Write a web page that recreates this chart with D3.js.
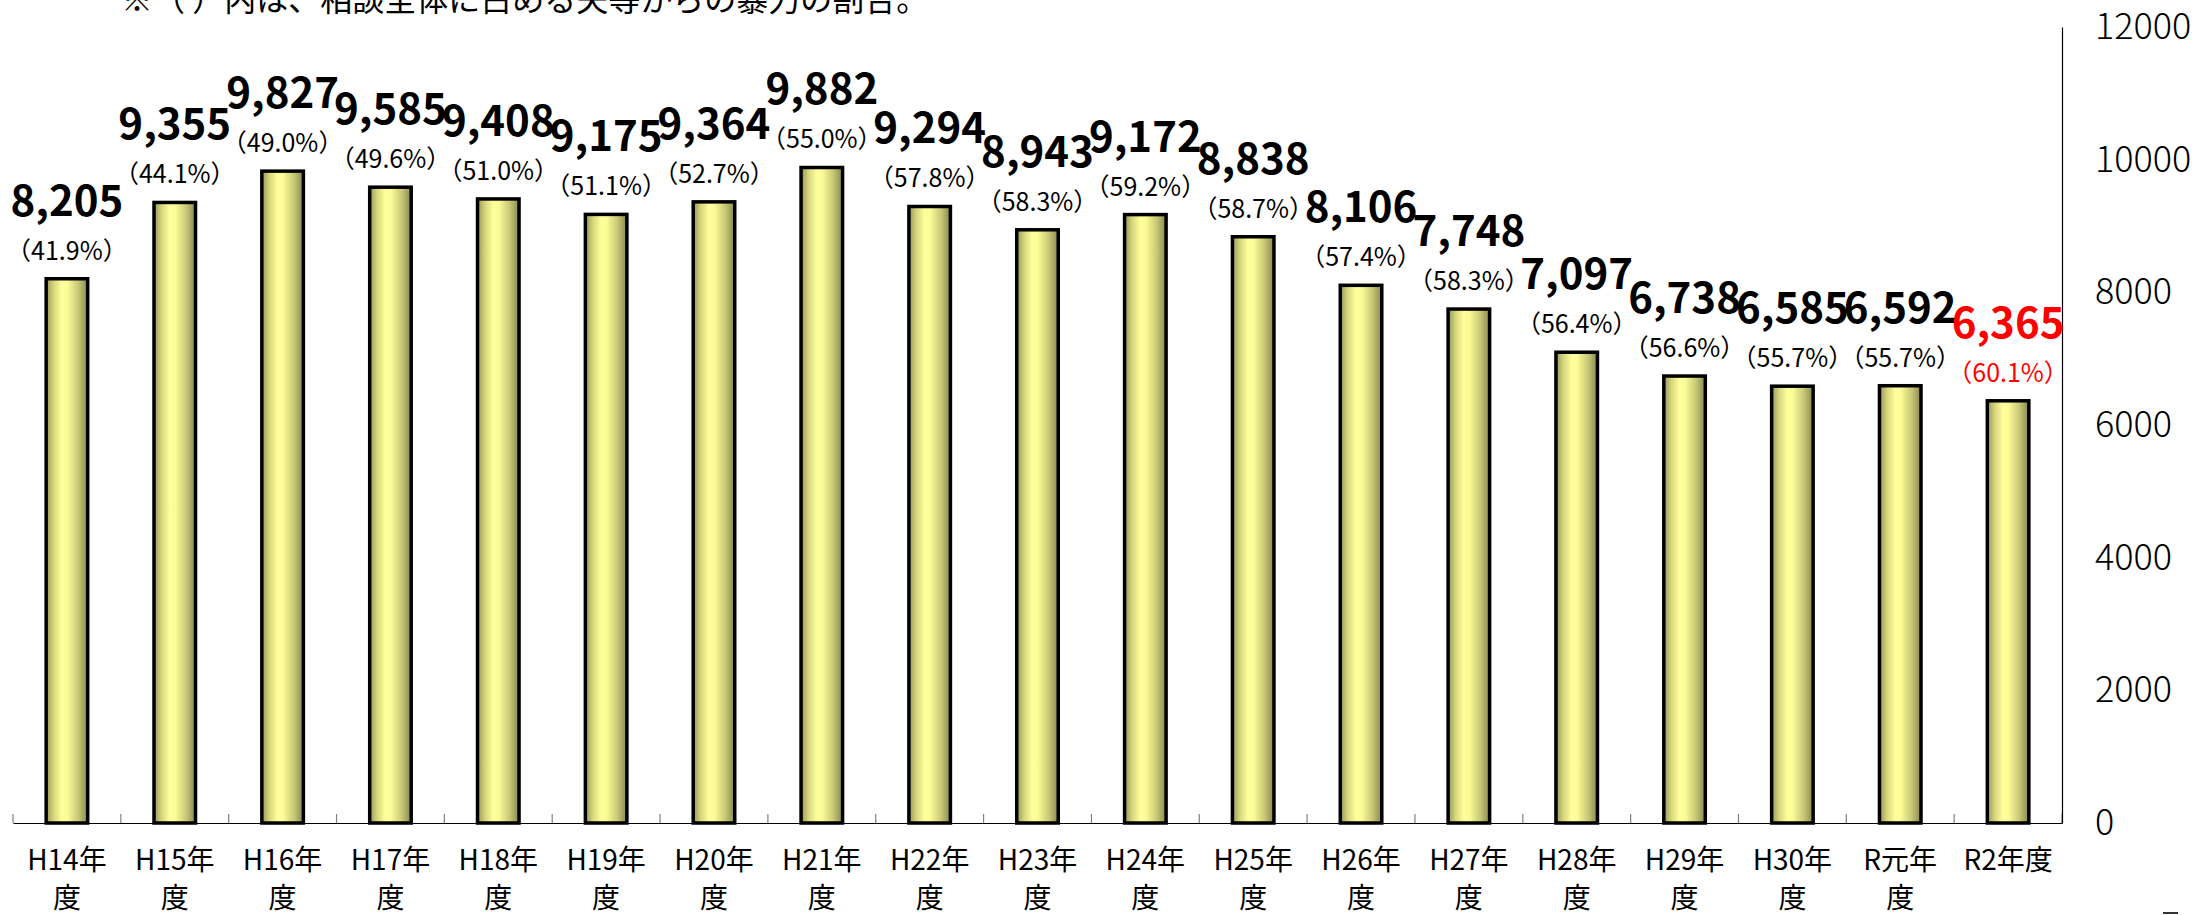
<!DOCTYPE html>
<html lang="ja">
<head>
<meta charset="utf-8">
<title>配偶者暴力相談件数の推移</title>
<script src="https://cdn.jsdelivr.net/npm/d3@7/dist/d3.min.js"></script>
<style>
  html, body { margin: 0; padding: 0; background: #ffffff; }
  svg { display: block; }
  text { font-family: "Noto Sans CJK JP", "Noto Sans", sans-serif; }
</style>
</head>
<body>
<div id="chart"></div>
<script>
// 年度別の相談件数と、相談全体に占める夫等からの暴力の割合（%）
const categories = ["H14年度", "H15年度", "H16年度", "H17年度", "H18年度", "H19年度", "H20年度",
  "H21年度", "H22年度", "H23年度", "H24年度", "H25年度", "H26年度", "H27年度", "H28年度",
  "H29年度", "H30年度", "R元年度", "R2年度"];
const counts = [8205, 9355, 9827, 9585, 9408, 9175, 9364, 9882, 9294, 8943, 9172, 8838,
  8106, 7748, 7097, 6738, 6585, 6592, 6365];
const shares = [41.9, 44.1, 49.0, 49.6, 51.0, 51.1, 52.7, 55.0, 57.8, 58.3, 59.2, 58.7,
  57.4, 58.3, 56.4, 56.6, 55.7, 55.7, 60.1];
const yTicks = [0, 2000, 4000, 6000, 8000, 10000, 12000];
const latestYear = "R2年度";
const note = "※（ ）内は、相談全体に占める夫等からの暴力の割合。";

const W = 2208, H = 915;
const plot = { left: 13, right: 2062, top: 27, bottom: 823 };

const svg = d3.select("#chart").append("svg")
  .attr("width", W).attr("height", H)
  .attr("viewBox", `0 0 ${W} ${H}`);

svg.append("rect").attr("width", W).attr("height", H).attr("fill", "#ffffff");

// 円柱風の横方向グラデーション
const grad = svg.append("defs").append("linearGradient")
  .attr("id", "barFill").attr("x1", "0%").attr("x2", "100%").attr("y1", "0%").attr("y2", "0%");
[["0%", "#96965a"], ["18%", "#d6d67c"], ["38%", "#ffff9c"], ["52%", "#fafa96"],
 ["78%", "#c6c676"], ["100%", "#87874f"]]
  .forEach(([o, c]) => grad.append("stop").attr("offset", o).attr("stop-color", c));

const x = d3.scaleBand().domain(categories).range([plot.left, plot.right]).padding(0);
const y = d3.scaleLinear().domain([0, 12000]).range([plot.bottom, plot.top]);

const rows = categories.map((c, i) => ({ cat: c, count: counts[i], share: shares[i] }));
const colorOf = d => d.cat === latestYear ? "#ff0000" : "#000000";

// 注記（上端で切れている）
svg.append("text")
  .attr("x", 121).attr("y", 11)
  .attr("font-size", 32)
  .attr("fill", "#000")
  .text(note);

// 棒
const barW = x.bandwidth() * 0.385;
svg.append("g").selectAll("rect").data(rows).join("rect")
  .attr("x", d => x(d.cat) + x.bandwidth() / 2 - barW / 2)
  .attr("y", d => y(d.count))
  .attr("width", barW)
  .attr("height", d => y(0) - y(d.count))
  .attr("fill", "url(#barFill)")
  .attr("stroke", "#000")
  .attr("stroke-width", 3.5);

// 横軸
const xAxis = d3.axisBottom(x).tickSize(0).tickFormat("");
const gx = svg.append("g").attr("transform", `translate(0,${plot.bottom})`).call(xAxis);
gx.select(".domain").attr("stroke", "#000").attr("stroke-width", 1.2);
// 区切り目盛（内向き）
const bounds = categories.map(c => x(c)).concat([plot.right]);
svg.append("g").selectAll("line").data(bounds).join("line")
  .attr("x1", d => d).attr("x2", d => d)
  .attr("y1", plot.bottom - 9).attr("y2", plot.bottom)
  .attr("stroke", "#808080").attr("stroke-width", 1.2);

// 年度ラベル（幅に収まらない場合は折り返す）
const labelG = svg.append("g").attr("font-size", 28).attr("fill", "#000").attr("text-anchor", "middle");
rows.forEach(d => {
  const t = labelG.append("text").attr("x", x(d.cat) + x.bandwidth() / 2).attr("y", 870);
  const chars = Array.from(d.cat);
  const probe = labelG.append("text").attr("visibility", "hidden");
  const lines = [];
  let cur = "";
  chars.forEach(ch => {
    probe.text(cur + ch);
    if (cur && probe.node().getComputedTextLength() > 96) { lines.push(cur); cur = ch; }
    else cur += ch;
  });
  lines.push(cur);
  probe.remove();
  lines.forEach((ln, k) => t.append("tspan")
    .attr("x", x(d.cat) + x.bandwidth() / 2)
    .attr("dy", k === 0 ? 0 : 38)
    .text(ln));
});

// 右側の縦軸
const yAxis = d3.axisRight(y).tickValues(yTicks).tickSize(0).tickPadding(33).tickFormat(d3.format("d"));
const gy = svg.append("g").attr("transform", `translate(${plot.right},0)`).call(yAxis);
gy.select(".domain").attr("stroke", "#000").attr("stroke-width", 1.2);
gy.selectAll("text")
  .attr("font-family", "\"Noto Sans CJK JP\", sans-serif")
  .attr("font-size", 36).attr("font-weight", 300).attr("fill", "#000");

// 割合ラベル
svg.append("g").attr("text-anchor", "middle").attr("font-size", 25)
  .selectAll("text").data(rows).join("text")
  .attr("x", d => x(d.cat) + x.bandwidth() / 2)
  .attr("y", d => y(d.count) - 19)
  .attr("fill", colorOf)
  .text(d => `（${d.share.toFixed(1)}%）`);

// 件数ラベル
svg.append("g").attr("text-anchor", "middle").attr("font-size", 42).attr("font-weight", 700)
  .selectAll("text").data(rows).join("text")
  .attr("x", d => x(d.cat) + x.bandwidth() / 2)
  .attr("y", d => y(d.count) - 63)
  .attr("fill", colorOf)
  .text(d => d3.format(",")(d.count));

// 右下の切れた記号
svg.append("line")
  .attr("x1", 2163).attr("x2", 2178).attr("y1", 913).attr("y2", 913)
  .attr("stroke", "#333").attr("stroke-width", 2);
</script>
</body>
</html>
